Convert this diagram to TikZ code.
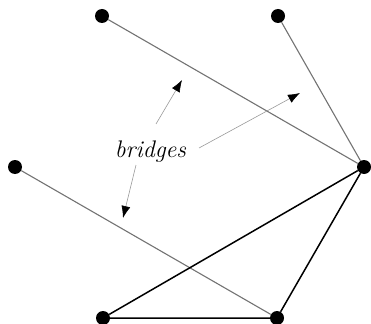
\documentclass[tikz,border=0pt]{standalone}
\usetikzlibrary{arrows.meta}
\begin{document}
\begin{tikzpicture}[x=1pt,y=-1pt,
  dot/.style={circle,fill=black,inner sep=0pt,minimum size=14pt},
  bridge/.style={draw=black!55,line width=1.1pt},
  tree/.style={draw=black,line width=1.5pt},
  pointer/.style={draw=black!40,line width=0.6pt,-{Latex[length=12pt,width=9pt,black]}},
  lbl/.style={font=\fontsize{24}{28}\selectfont\itshape,inner sep=0pt}]
\useasboundingbox (0,0) rectangle (371,323);
\node[dot] (a) at (102,16) {};
\node[dot] (b) at (278,16) {};
\node[dot] (c) at (15,167) {};
\node[dot] (d) at (364,167) {};
\node[dot] (e) at (103,318) {};
\node[dot] (f) at (277,318) {};
\draw[bridge] (a) -- (d);
\draw[bridge] (b) -- (d);
\draw[bridge] (c) -- (f);
\draw[tree] (d) -- (e) -- (f) -- (d);
\node[lbl,anchor=base] (t) at (150.5,157) {bridges};
\coordinate (s1) at (156,124);
\coordinate (t1) at (182,80);
\coordinate (s2) at (199,148);
\coordinate (t2) at (300,93);
\coordinate (s3) at (136,165);
\coordinate (t3) at (123,218);
\draw[pointer] (s1) -- (t1);
\draw[pointer] (s2) -- (t2);
\draw[pointer] (s3) -- (t3);
\end{tikzpicture}
\end{document}
